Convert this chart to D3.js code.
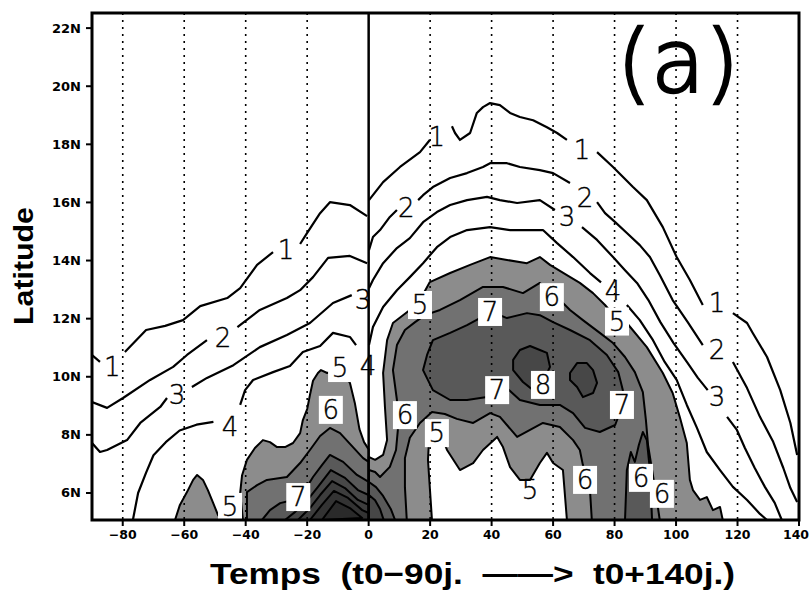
<!DOCTYPE html>
<html><head><meta charset="utf-8">
<script src="https://cdn.jsdelivr.net/npm/d3@7"></script>
<style>body{margin:0;background:#fff}</style></head>
<body><svg id="c" width="810" height="595"></svg>
<script>
// ---------- axes ----------
const xTicks = [-80,-60,-40,-20,0,20,40,60,80,100,120,140];
const yTicks = [6,8,10,12,14,16,18,20,22];
const yTickLabels = ["6N","8N","10N","12N","14N","16N","18N","20N","22N"];
const gridDays = [-80,-60,-40,-20,20,40,60,80,100,120];

// ---------- unshaded contours [day, lat] (segments broken at labels) ----------
// left field (t0-90j .. t0)
const c1Left = [
 [[-90,10.75],[-87.4,10.51]],
 [[-79.3,10.85],[-72.4,11.61],[-66.2,11.75],[-60.4,11.95],[-54.8,12.43],[-46.0,12.71],[-41.8,13.05],[-36.3,13.85],[-31.1,14.29]],
 [[-22.3,14.57],[-20.0,14.95],[-15.8,15.63],[-12.6,16.01],[-6.1,15.91],[-0.5,15.53]]
];
const c2Left = [
 [[-90,9.13],[-85.1,8.93],[-79.9,9.27],[-71.1,9.89],[-63.6,10.34],[-59.1,10.75],[-52.6,11.26]],
 [[-42.7,11.71],[-35.4,12.30],[-26.6,12.71],[-22.3,12.98],[-18.1,13.43],[-13.2,14.09],[-6.1,14.16],[-0.5,13.91]]
];
const c3Left = [
 [[-90,7.72],[-87.4,7.41],[-85.1,7.48],[-78.6,7.82],[-74.3,8.41],[-67.8,8.96],[-65.6,9.27]],
 [[-57.5,9.65],[-52.6,9.96],[-44.0,10.40],[-35.4,11.02],[-26.6,11.44],[-19.1,11.85],[-11.6,12.54],[-5.5,12.81]]
];
const c4Left = [
 [[-76.7,5.07],[-75.0,6.0],[-72.4,6.7],[-70.0,7.3],[-66.0,7.75],[-61.5,8.15],[-56.0,8.35],[-50.5,8.45]],
 [[-41.8,9.03],[-40.2,9.54],[-37.6,9.89],[-31.1,10.16],[-25.6,10.37],[-21.4,10.85],[-15.8,11.06],[-11.6,11.51],[-6.1,11.37],[-4.1,11.09]]
];
// right field (t0 .. t0+140j)
const c1Right = [
 [[0.1,16.08],[4.7,16.70],[10.2,17.22],[16.7,17.73],[19.9,18.15]],
 [[27.1,18.62],[28.1,18.39],[29.7,18.15],[33.0,18.39],[35.2,19.08],[37.2,19.28],[39.5,19.42],[42.7,19.35],[46.0,19.08],[49.2,18.94],[53.5,18.83],[58.0,18.59],[61.3,18.39],[64.5,18.15]],
 [[74.3,17.73],[79.5,17.22],[86.0,16.53],[90.5,16.08],[95.7,15.15],[100.2,14.12],[104.5,13.33],[108.7,12.47]],
 [[118.5,12.19],[123.1,11.85],[125.0,11.5],[129.6,10.68],[133.9,9.54],[137.2,8.41],[139.4,7.31]]
];
const c2Right = [
 [[0.1,14.36],[1.4,14.81],[3.7,15.05],[6.9,15.5],[9.2,15.74]],
 [[16.1,16.08],[17.7,16.25],[20.9,16.53],[26.5,16.84],[32.0,17.01],[37.2,17.22],[39.5,17.35],[45.0,17.35],[49.2,17.22],[55.7,17.11],[60.0,17.01],[65.5,16.67]],
 [[74.3,16.01],[76.9,15.63],[80.2,15.32],[84.0,14.95],[88.2,14.53],[91.5,14.12],[94.7,13.5],[98.9,12.64],[103.8,11.88],[108.7,11.09]],
 [[118.5,10.51],[123.1,9.61],[127.3,8.62],[131.6,7.76],[134.9,6.86],[137.2,6.17],[139.4,5.69]]
];
const c3Right = [
 [[0.1,13.05],[1.4,13.33],[4.7,13.91],[9.2,14.43],[13.4,14.77],[17.7,15.32],[22.2,15.67],[26.5,15.91],[32.0,16.08],[38.5,16.19],[42.7,16.08],[48.3,15.98],[55.7,16.08],[60.6,15.74]],
 [[69.4,15.15],[74.3,14.71],[79.5,14.12],[83.4,13.67],[87.3,13.23],[91.0,12.64],[94.9,11.88],[99.2,11.16],[103.8,10.47],[107.1,9.96],[110.3,9.54]],
 [[116.6,8.62],[119.8,8.17],[122.4,7.55],[125.6,6.86],[128.9,6.21],[132.1,5.66],[134.4,5.07]]
];
const c4Right = [
 [[0.1,11.09],[1.4,11.71],[4.7,12.40],[9.2,12.98],[13.4,13.43],[17.7,13.91],[22.2,14.46],[26.5,14.81],[32.0,15.05],[39.5,15.15],[46.0,15.05],[51.5,15.05],[56.7,15.05],[61.3,14.60],[66.5,14.12],[72.0,13.57],[75.6,13.25]],
 [[84.0,12.47],[88.2,11.95],[92.5,11.26],[96.3,10.51],[100.2,9.89],[103.5,9.03],[106.8,8.24],[110.0,7.41],[114.3,6.79],[118.5,6.21],[123.1,5.76],[127.3,5.28],[129.6,5.07]]
];

// ---------- shaded regions (value >= level) ----------
const fillL5a = [[-63.0,5.07],[-61.4,5.59],[-59.1,6.03],[-57.1,6.45],[-55.8,6.62],[-53.9,6.45],[-52.3,6.1],[-50.6,5.66],[-49.0,5.24],[-47.7,5.07]];
const fillL5b = [[-40.9,5.07],[-41.8,6.0],[-41.2,6.6],[-39.6,7.14],[-37.0,7.55],[-34.4,7.82],[-32.1,7.75],[-29.8,7.58],[-27.2,7.58],[-24.6,7.72],[-22.3,8.06],[-21.4,8.51],[-20.0,8.89],[-19.1,9.37],[-18.1,9.86],[-16.5,10.13],[-15.5,10.23],[-13.5,10.13],[-11.0,10.2],[-8.5,10.16],[-6.1,9.79],[-4.5,9.1],[-3.0,8.2],[-1.5,7.75],[0,7.5],[0,5.07]];
const fillL6 = [[-39.6,5.07],[-39.6,6.03],[-36.3,6.27],[-33.1,6.45],[-26.6,6.55],[-22.3,7.03],[-19.1,7.48],[-15.8,7.96],[-12.6,8.24],[-9.3,8.06],[-5.1,7.58],[-1.8,7.2],[0,7.07],[0,5.07]];
const fillL7 = [[-34.7,5.07],[-32.1,5.41],[-28.8,5.65],[-24.6,5.76],[-20.7,6.1],[-18.1,6.55],[-15.2,6.96],[-12.6,7.31],[-8.3,7.07],[-3.8,6.62],[0,6.38],[0,5.07]];
const fillL8 = [[-27.2,5.07],[-23.9,5.35],[-20.7,5.65],[-16.5,6.21],[-12.3,6.79],[-7.7,6.52],[-3.5,6.1],[0,5.93],[0,5.07]];
const fillL9 = [[-23.0,5.07],[-19.1,5.48],[-15.8,5.93],[-11.9,6.41],[-7.7,6.17],[-3.5,5.76],[0,5.59],[0,5.07]];
const fillL10 = [[-19.1,5.07],[-15.2,5.59],[-11.3,6.07],[-6.7,5.83],[-2.1,5.41],[0,5.31],[0,5.07]];
const fillL11 = [[-15.2,5.07],[-10.6,5.72],[-6.1,5.48],[-2.1,5.14]];

const fillR5 = [[0,5.07],[0,7.24],[2.1,7.14],[4.7,7.31],[6.0,7.82],[5.3,8.96],[4.7,10.13],[6.0,11.26],[7.9,11.85],[13.4,12.30],[16.7,12.64],[19.9,13.26],[26.5,13.57],[33.0,13.85],[39.5,14.12],[45.0,14.02],[51.5,13.91],[55.7,14.12],[59.0,13.85],[64.5,13.50],[68.7,13.23],[73.0,12.88],[76.9,12.47],[80.5,12.02],[84.0,11.85],[90.5,11.02],[95.7,10.13],[98.9,9.44],[101.2,8.62],[103.5,7.72],[104.5,6.45],[105.5,6.10],[107.8,5.76],[110.0,5.86],[112.0,5.41],[114.3,5.52],[115.2,5.07],
 [64.5,5.07],[63.2,6.79],[60.0,7.03],[58.0,7.38],[55.7,7.03],[52.5,6.45],[49.2,6.45],[46.0,6.89],[43.7,7.58],[41.8,7.93],[37.2,7.48],[34.0,7.03],[29.7,6.79],[25.5,7.48],[23.2,8.06],[19.9,8.34],[19.3,7.14],[20.6,5.07]];
const fillR6 = [[0.1,5.07],[0.1,6.79],[2.1,6.72],[3.7,6.55],[6.9,6.9],[8.9,7.48],[9.5,8.17],[9.2,9.20],[7.9,10.23],[9.2,11.09],[11.8,11.61],[15.1,11.88],[18.3,12.12],[23.2,12.30],[29.7,12.64],[37.2,13.09],[43.7,13.09],[50.2,12.88],[55.7,13.23],[61.3,12.74],[65.5,12.30],[69.7,11.95],[75.2,11.51],[79.5,11.16],[83.4,10.68],[86.6,10.16],[89.2,9.47],[90.2,8.51],[90.9,7.65],[92.2,6.79],[93.5,5.93],[94.7,5.07],
 [72.6,5.07],[72.0,6.10],[69.7,6.96],[68.7,7.48],[66.5,7.82],[62.2,8.27],[56.7,8.41],[52.5,8.17],[48.3,7.93],[42.7,8.62],[39.5,8.75],[34.0,8.41],[28.7,8.55],[24.8,8.72],[20.6,8.79],[16.7,8.41],[13.4,7.9],[11.8,7.2],[11.8,6.2],[12.4,5.07]];
const fillR7 = [[17.7,10.23],[19.0,10.75],[20.9,11.26],[26.5,11.51],[32.0,11.78],[36.2,12.02],[40.1,12.23],[45.0,12.02],[51.5,12.19],[55.7,12.12],[60.0,11.88],[65.5,11.61],[72.0,11.26],[77.5,10.75],[81.2,10.16],[82.7,9.54],[82.4,8.96],[80.2,8.34],[75.2,8.10],[70.4,8.24],[66.5,8.75],[62.2,9.03],[55.7,9.03],[49.2,9.20],[45.0,9.61],[41.8,9.54],[38.5,9.30],[32.0,9.20],[26.5,9.20],[20.9,9.54]];
const fillR7b = [[0.1,5.07],[0.1,6.38],[2.4,6.2],[4.7,5.9],[7.2,5.45],[8.6,5.07]];
const fillR7c = [[83.4,5.07],[84.0,6.79],[85.3,7.41],[86.6,7.07],[87.9,7.65],[89.2,8.1],[90.5,7.82],[91.5,6.79],[92.2,5.07]];
const fillR8a = [[47.0,10.58],[49.2,10.92],[52.5,11.06],[55.7,10.92],[58.0,10.82],[59.0,10.34],[57.3,9.96],[53.5,9.54],[50.2,9.82],[47.0,10.23]];
const fillR8b = [[65.5,10.13],[67.8,10.47],[71.0,10.47],[73.0,10.23],[74.3,9.79],[73.0,9.44],[69.7,9.30],[67.8,9.65],[65.5,9.89]];
const fillR8c = [[0.1,5.07],[0.1,5.93],[2.1,5.75],[3.7,5.45],[4.9,5.07]];

// ---------- contour labels [text, day, lat, boxed] ----------
const labelText = ["1","1","2","3","4","5","5","6","7","4","3",
                   "1","2","1","2","3","1","2","3","4","5","5","7","6","7","8","7","6","5","5","6","6","6"];
const labelDay  = [-83.4,-26.9,-47.4,-62.3,-45.1,-45.1,-9.3,-12.3,-22.9,-0.2,-1.8,
                   22.2,12.2,69.4,70.4,64.5,113.3,113.3,113.3,79.5,80.8,16.7,39.5,59.6,41.8,56.7,82.4,11.8,22.2,52.5,70.4,88.6,95.4];
const labelLat  = [10.34,14.36,11.33,9.37,8.27,5.52,10.3,8.86,5.86,10.37,12.64,
                   18.25,15.81,17.8,16.15,15.5,12.54,10.92,9.30,12.95,11.9,12.47,12.23,12.74,9.54,9.72,9.03,8.68,8.06,6.1,6.45,6.52,5.97];
const labelBox  = [0,0,0,0,0,1,1,1,1,0,0,
                   0,0,0,0,0,0,0,0,0,1,1,1,1,1,1,1,1,1,0,1,1,1];

const shadeColor = {5:"#8c8c8c",6:"#717171",7:"#595959",8:"#474747",9:"#3d3d3d",10:"#333333",11:"#2a2a2a"};

// ---------- drawing ----------
const svg = d3.select("#c");
const x = d3.scaleLinear().domain([-90,140]).range([92,799]);
const y = d3.scaleLinear().domain([5.07,22.52]).range([520,13]);
const line = d3.line().x(d=>x(d[0])).y(d=>y(d[1]));

svg.append("defs").append("clipPath").attr("id","plot")
  .append("rect").attr("x",x(-90)).attr("y",y(22.52)).attr("width",x(140)-x(-90)).attr("height",y(5.07)-y(22.52));
const g = svg.append("g").attr("clip-path","url(#plot)");

const fills = [
 [fillL5a,5],[fillL5b,5],[fillL6,6],[fillL7,7],[fillL8,8],[fillL9,9],[fillL10,10],[fillL11,11],
 [fillR5,5],[fillR6,6],[fillR7,7],[fillR7b,7],[fillR7c,7],[fillR8a,8],[fillR8b,8],[fillR8c,8]
];
fills.forEach(([pts,lev])=>{
  g.append("path").attr("d", line(pts)+"Z").attr("fill",shadeColor[lev])
   .attr("stroke","#000").attr("stroke-width",2).attr("stroke-linejoin","round");
});

// grid lines
gridDays.forEach(d=>{
  g.append("line").attr("x1",x(d)).attr("x2",x(d)).attr("y1",y(22.52)).attr("y2",y(5.07))
   .attr("stroke","#000").attr("stroke-width",1.6).attr("stroke-dasharray","2,5");
});

// contour lines
[c1Left,c2Left,c3Left,c4Left,c1Right,c2Right,c3Right,c4Right].forEach(segs=>{
  segs.forEach(s=>{
    g.append("path").attr("d",line(s)).attr("fill","none").attr("stroke","#000")
     .attr("stroke-width",2.2).attr("stroke-linejoin","round");
  });
});

// zero line
g.append("line").attr("x1",x(0)).attr("x2",x(0)).attr("y1",y(22.52)).attr("y2",y(5.07))
  .attr("stroke","#000").attr("stroke-width",2.5);

// labels
labelText.forEach((t,i)=>{
  const cx = x(labelDay[i]), cy = y(labelLat[i]);
  if (labelBox[i]) {
    g.append("rect").attr("x",cx-12).attr("y",cy-14).attr("width",24).attr("height",28).attr("fill","#fff");
  }
  g.append("text").attr("x",cx).attr("y",cy).attr("text-anchor","middle").attr("dominant-baseline","central")
   .attr("font-family","DejaVu Sans").attr("font-weight",200).attr("font-size",26).attr("fill","#000")
   .attr("stroke","#000").attr("stroke-width",0.4).text(t);
});

// frame
svg.append("rect").attr("x",x(-90)).attr("y",y(22.52)).attr("width",x(140)-x(-90)).attr("height",y(5.07)-y(22.52))
  .attr("fill","none").attr("stroke","#000").attr("stroke-width",3);

// ticks and tick labels
yTicks.forEach((v,i)=>{
  svg.append("line").attr("x1",x(-90)-6).attr("x2",x(-90)).attr("y1",y(v)).attr("y2",y(v)).attr("stroke","#000").attr("stroke-width",2);
  svg.append("text").attr("x",x(-90)-11).attr("y",y(v)).attr("text-anchor","end").attr("dominant-baseline","central")
   .attr("font-family","DejaVu Sans").attr("font-weight","bold").attr("font-size",13).text(yTickLabels[i]);
});
xTicks.forEach(v=>{
  svg.append("line").attr("x1",x(v)).attr("x2",x(v)).attr("y1",y(5.07)).attr("y2",y(5.07)+6).attr("stroke","#000").attr("stroke-width",2);
  svg.append("text").attr("x",x(v) - (v===140?3:0)).attr("y",y(5.07)+14).attr("text-anchor","middle").attr("dominant-baseline","central")
   .attr("font-family","DejaVu Sans").attr("font-weight","bold").attr("font-size",12.5).text(v<0?"\u2212"+(-v):String(v));
});

// axis titles
svg.append("text").attr("transform","translate(33,266) rotate(-90)").attr("text-anchor","middle")
  .attr("font-family","Liberation Sans, Arial, sans-serif").attr("font-weight","bold").attr("font-size",28)
  .attr("textLength",118).attr("lengthAdjust","spacingAndGlyphs").text("Latitude");
svg.append("text").attr("x",210).attr("y",584)
  .attr("font-family","Liberation Sans, Arial, sans-serif").attr("font-weight","bold").attr("font-size",29)
  .attr("textLength",525).attr("lengthAdjust","spacingAndGlyphs").attr("xml:space","preserve")
  .text("Temps  (t0\u221290j.  \u2014\u2014>  t0+140j.)");

// panel tag
svg.append("text").attr("x",678).attr("y",92).attr("text-anchor","middle")
  .attr("font-family","DejaVu Sans").attr("font-weight",200).attr("font-size",88)
  .attr("stroke","#000").attr("stroke-width",2.5).text("(a)");
</script>
</body></html>
